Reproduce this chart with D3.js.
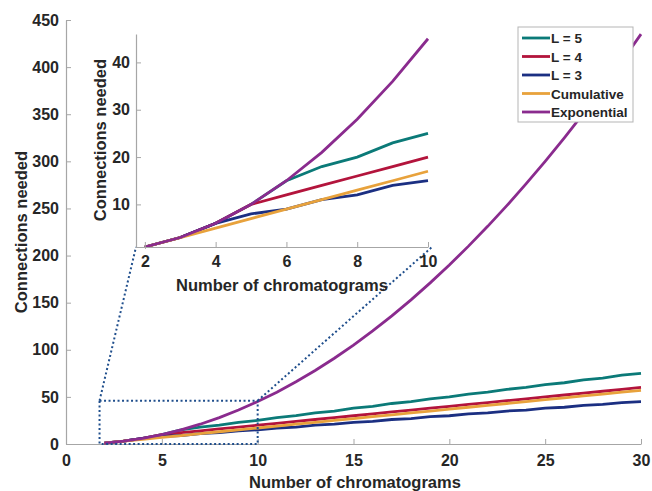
<!DOCTYPE html>
<html>
<head>
<meta charset="utf-8">
<script src="https://cdn.jsdelivr.net/npm/d3@7"></script>
<style>
  body { margin: 0; background: #fff; }
  text { font-family: Arial, "Liberation Sans", sans-serif; font-weight: bold; fill: #262626; }
</style>
</head>
<body>
<svg id="chart" width="652" height="491"></svg>
<script>
// Number of chromatograms
const chromatograms = [2,3,4,5,6,7,8,9,10,11,12,13,14,15,16,17,18,19,20,21,22,23,24,25,26,27,28,29,30];

// Connections needed per scheme
const l5 = [1,3,6,10,15,18,20,23,25,28,30,33,35,38,40,43,45,48,50,53,55,58,60,63,65,68,70,73,75];
const l4 = [1,3,6,10,12,14,16,18,20,22,24,26,28,30,32,34,36,38,40,42,44,46,48,50,52,54,56,58,60];
const l3 = [1,3,6,8,9,11,12,14,15,17,18,20,21,23,24,26,27,29,30,32,33,35,36,38,39,41,42,44,45];
const cumulative = [1,3,5,7,9,11,13,15,17,19,21,23,25,27,29,31,33,35,37,39,41,43,45,47,49,51,53,55,57];
const exponential = [1,3,6,10,15,21,28,36,45,55,66,78,91,105,120,136,153,171,190,210,231,253,276,300,325,351,378,406,435];

const seriesNames = ["L = 5", "L = 4", "L = 3", "Cumulative", "Exponential"];
const seriesValues = [l5, l4, l3, cumulative, exponential];
const seriesColors = ["#0b7a78", "#b3143c", "#1b2f82", "#e8a23c", "#8a2b8e"];

const mainXTicks = [0, 5, 10, 15, 20, 25, 30];
const mainYTicks = [0, 50, 100, 150, 200, 250, 300, 350, 400, 450];
const insetXTicks = [2, 4, 6, 8, 10];
const insetYTicks = [10, 20, 30, 40];

// zoom window shown in the inset
const zoomX = [1.75, 10];
const zoomY = [1, 46];

const svg = d3.select("#chart");
const axisColor = "#a6a6a6";

const x = d3.scaleLinear().domain([0, 30]).range([66, 641]);
const y = d3.scaleLinear().domain([0, 450]).range([444, 20]);

function styleAxis(g) {
    g.select(".domain").attr("stroke", axisColor).attr("stroke-width", 1.2);
    g.selectAll(".tick line").attr("stroke", axisColor);
    g.selectAll(".tick text").style("font-size", "16px").attr("fill", "#262626");
}

// Main axes (ticks inside)
svg.append("g")
    .attr("transform", `translate(0,${y(0)})`)
    .call(d3.axisBottom(x).tickValues(mainXTicks).tickSizeInner(-5).tickSizeOuter(0).tickPadding(11))
    .call(styleAxis);

svg.append("g")
    .attr("transform", `translate(${x(0)},0)`)
    .call(d3.axisLeft(y).tickValues(mainYTicks).tickSizeInner(-5).tickSizeOuter(0).tickPadding(7))
    .call(styleAxis);

svg.append("text")
    .attr("x", 355).attr("y", 488)
    .attr("text-anchor", "middle")
    .style("font-size", "16.5px")
    .text("Number of chromatograms");

svg.append("text")
    .attr("transform", `translate(27,232) rotate(-90)`)
    .attr("text-anchor", "middle")
    .style("font-size", "16.5px")
    .text("Connections needed");

// Main lines
const mainLine = d3.line()
    .x((d, i) => x(chromatograms[i]))
    .y(d => y(d));

seriesValues.forEach((vals, k) => {
    svg.append("path")
        .datum(vals)
        .attr("fill", "none")
        .attr("stroke", seriesColors[k])
        .attr("stroke-width", 2.8)
        .attr("d", mainLine);
});

// Inset scales
const ix = d3.scaleLinear().domain(zoomX).range([136, 428]);
const iy = d3.scaleLinear().domain(zoomY).range([247, 34]);

// Dotted zoom rectangle and connectors
const dotted = g => g.attr("fill", "none")
    .attr("stroke", "#1f4e8c")
    .attr("stroke-width", 2)
    .attr("stroke-dasharray", "2,2.5");

svg.append("rect")
    .attr("x", x(zoomX[0])).attr("y", y(zoomY[1]))
    .attr("width", x(zoomX[1]) - x(zoomX[0]))
    .attr("height", y(0) - y(zoomY[1]))
    .call(dotted);

svg.append("line")
    .attr("x1", x(zoomX[0])).attr("y1", y(zoomY[1]))
    .attr("x2", ix(zoomX[0])).attr("y2", iy(zoomY[0]))
    .call(dotted);

svg.append("line")
    .attr("x1", x(zoomX[1])).attr("y1", y(zoomY[1]))
    .attr("x2", ix(zoomX[1]) + 4).attr("y2", iy(zoomY[0]))
    .call(dotted);

// Inset
const inset = svg.append("g");

inset.append("rect")
    .attr("x", 90).attr("y", 30)
    .attr("width", 345).attr("height", 215)
    .attr("fill", "#fff");

const insetLine = d3.line()
    .x(d => ix(d[0]))
    .y(d => iy(d[1]));

seriesValues.forEach((vals, k) => {
    const pts = chromatograms.map((c, i) => [c, vals[i]]).filter(p => p[0] <= 10);
    inset.append("path")
        .datum(pts)
        .attr("fill", "none")
        .attr("stroke", seriesColors[k])
        .attr("stroke-width", 2.8)
        .attr("d", insetLine);
});

inset.append("g")
    .attr("transform", `translate(0,${iy(zoomY[0])})`)
    .call(d3.axisBottom(ix).tickValues(insetXTicks).tickSizeInner(-5).tickSizeOuter(0).tickPadding(9))
    .call(styleAxis);

inset.append("g")
    .attr("transform", `translate(${ix(zoomX[0])},0)`)
    .call(d3.axisLeft(iy).tickValues(insetYTicks).tickSizeInner(-5).tickSizeOuter(0).tickPadding(6))
    .call(styleAxis);

inset.append("text")
    .attr("x", 282).attr("y", 291)
    .attr("text-anchor", "middle")
    .style("font-size", "16.5px")
    .text("Number of chromatograms");

inset.append("text")
    .attr("transform", `translate(106,140) rotate(-90)`)
    .attr("text-anchor", "middle")
    .style("font-size", "16.5px")
    .text("Connections needed");

// Legend
const legend = svg.append("g").attr("transform", "translate(518,27)");

legend.append("rect")
    .attr("width", 115).attr("height", 95)
    .attr("fill", "#fff")
    .attr("stroke", "#b5b5b5");

seriesNames.forEach((name, i) => {
    const ly = 11 + i * 18.5;
    legend.append("line")
        .attr("x1", 4).attr("x2", 32)
        .attr("y1", ly).attr("y2", ly)
        .attr("stroke", seriesColors[i])
        .attr("stroke-width", 2.8);
    legend.append("text")
        .attr("x", 33).attr("y", ly + 5)
        .style("font-size", "13.5px")
        .text(name);
});
</script>
</body>
</html>
